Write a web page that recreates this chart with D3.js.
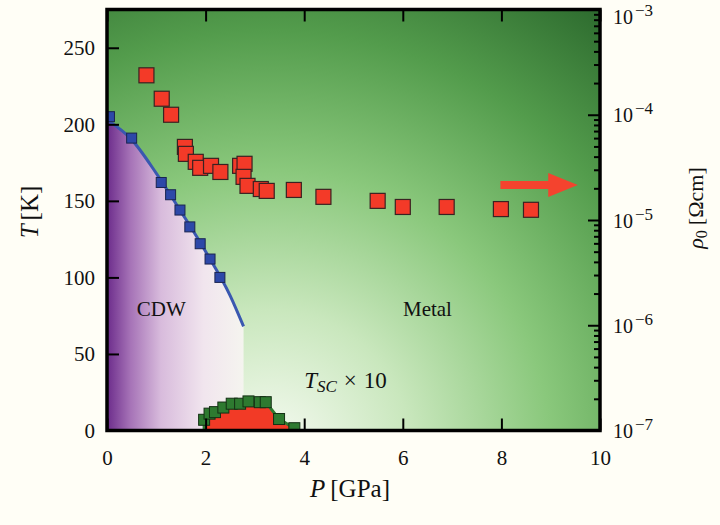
<!DOCTYPE html>
<html lang="en">
  <head>
    <meta charset="utf-8" />
    <title>Phase diagram</title>
    <script src="https://d3js.org/d3.v7.min.js"></script>
    <style>
      body { margin: 0; background: #fffef6; }
      text { font-family: "Liberation Serif", "DejaVu Serif", serif; fill: #111; }
    </style>
  </head>
  <body>
    <div id="chart"></div>
    <script>
      // CDW transition (blue squares)
      const cdwP = [0.05, 0.5, 1.1, 1.29, 1.48, 1.68, 1.89, 2.09, 2.29];
      const cdwT = [205, 191, 162, 154, 144, 133, 122, 112, 100];
      // fit line through CDW points
      const fitP = [0, 0.5, 1.0, 1.5, 2.0, 2.5, 2.77];
      const fitT = [203, 190, 168, 143, 117, 88, 68];
      // superconducting Tc x 10 (green squares)
      const scP = [1.97, 2.08, 2.19, 2.36, 2.53, 2.7, 2.87, 3.1, 3.22, 3.49, 3.8];
      const scT = [7, 11, 12, 15, 17.5, 17.5, 19, 18.5, 18.5, 7.5, 1.5];
      // residual resistivity rho0 (red squares, right axis)
      const rhoP = [0.8, 1.11, 1.3, 1.58, 1.6, 1.8, 1.89, 2.11, 2.3, 2.7, 2.79, 2.77, 2.85,
        3.12, 3.24, 3.79, 4.39, 5.49, 6.0, 6.89, 7.99, 8.6];
      const rhoV = [2.37e-4, 1.42e-4, 1.0e-4, 4.95e-5, 4.25e-5, 3.57e-5, 3.13e-5, 3.27e-5,
        2.86e-5, 3.27e-5, 3.42e-5, 2.57e-5, 2.11e-5, 1.97e-5, 1.89e-5, 1.93e-5, 1.66e-5,
        1.52e-5, 1.33e-5, 1.33e-5, 1.27e-5, 1.25e-5];
      const tTicks = [0, 50, 100, 150, 200, 250];
      const pTicks = [0, 2, 4, 6, 8, 10];
      const rhoTicks = [-7, -6, -5, -4, -3];

      const W = 720, H = 525;
      const x0 = 107, x1 = 600, yb = 430.5, yt = 9.5;

      const svg = d3.select("#chart").append("svg")
        .attr("width", W).attr("height", H);
      svg.append("rect").attr("width", W).attr("height", H).attr("fill", "#fffef6");

      const x = d3.scaleLinear().domain([0, 10]).range([x0, x1]);
      const y = d3.scaleLinear().domain([0, 275]).range([yb, yt]);
      const yR = d3.scaleLog().domain([1e-7, 1e-3]).range([yb, yt]);

      const defs = svg.append("defs");
      const gG = defs.append("radialGradient").attr("id", "gGreen")
        .attr("gradientUnits", "userSpaceOnUse")
        .attr("cx", 270).attr("cy", 450).attr("r", 560);
      [[0, "#f7fbf3"], [0.25, "#c9e7bd"], [0.5, "#8ac87c"], [0.75, "#539c4c"], [1, "#2a672c"]]
        .forEach(s => gG.append("stop").attr("offset", s[0]).attr("stop-color", s[1]));
      const gP = defs.append("linearGradient").attr("id", "gPurple")
        .attr("gradientUnits", "userSpaceOnUse")
        .attr("x1", x(0)).attr("x2", x(2.8)).attr("y1", 0).attr("y2", 0);
      [[0, "#6c2c8b"], [0.17, "#a673b7"], [0.39, "#d8bbdc"], [0.7, "#f1e5ee"], [1, "#f5f5ef"]]
        .forEach(s => gP.append("stop").attr("offset", s[0]).attr("stop-color", s[1]));
      defs.append("clipPath").attr("id", "clip").append("rect")
        .attr("x", x0).attr("y", yt).attr("width", x1 - x0).attr("height", yb - yt);

      const plot = svg.append("g").attr("clip-path", "url(#clip)");
      plot.append("rect").attr("x", x0).attr("y", yt)
        .attr("width", x1 - x0).attr("height", yb - yt).attr("fill", "url(#gGreen)");

      // CDW region
      const fit = fitP.map((p, i) => [p, fitT[i]]);
      const cdwArea = d3.area().x(d => x(d[0])).y0(y(0)).y1(d => y(d[1])).curve(d3.curveMonotoneX);
      plot.append("path").datum(fit).attr("d", cdwArea).attr("fill", "url(#gPurple)");

      // SC dome
      const sc = scP.map((p, i) => [p, scT[i]]);
      plot.append("path").datum([[scP[0], 0], ...sc, [scP[scP.length - 1], 0]])
        .attr("d", d3.area().x(d => x(d[0])).y0(y(0)).y1(d => y(d[1])))
        .attr("fill", "#f23a26");
      plot.append("path").datum([[scP[0], 0], ...sc, [3.85, 0]])
        .attr("d", d3.line().x(d => x(d[0])).y(d => y(d[1])))
        .attr("fill", "none").attr("stroke", "#2e7a30").attr("stroke-width", 3);
      plot.selectAll(".sc").data(sc).enter().append("rect")
        .attr("x", d => x(d[0]) - 5.5).attr("y", d => y(d[1]) - 5.5)
        .attr("width", 11).attr("height", 11)
        .attr("fill", "#2e7a30").attr("stroke", "#143014").attr("stroke-width", 1);

      // CDW line and points
      plot.append("path").datum(fit)
        .attr("d", d3.line().x(d => x(d[0])).y(d => y(d[1])).curve(d3.curveMonotoneX))
        .attr("fill", "none").attr("stroke", "#3a58b0").attr("stroke-width", 3);
      plot.selectAll(".cdw").data(cdwP.map((p, i) => [p, cdwT[i]])).enter().append("rect")
        .attr("x", d => x(d[0]) - 5).attr("y", d => y(d[1]) - 5)
        .attr("width", 10).attr("height", 10)
        .attr("fill", "#2d48a8").attr("stroke", "#1a2450").attr("stroke-width", 1);

      // rho0 points
      plot.selectAll(".rho").data(rhoP.map((p, i) => [p, rhoV[i]])).enter().append("rect")
        .attr("x", d => x(d[0]) - 7.5).attr("y", d => yR(d[1]) - 7.5)
        .attr("width", 15).attr("height", 15)
        .attr("fill", "#f33a28").attr("stroke", "#3a2222").attr("stroke-width", 1.2);

      // arrow pointing to right axis
      const ay = yR(2.15e-5);
      svg.append("path")
        .attr("d", `M${x(7.98)},${ay - 4}L${x(8.95)},${ay - 4}L${x(8.95)},${ay - 12}L${x(9.55)},${ay}` +
          `L${x(8.95)},${ay + 12}L${x(8.95)},${ay + 4}L${x(7.98)},${ay + 4}Z`)
        .attr("fill", "#f4432e");

      // region labels
      svg.append("text").attr("x", x(1.1)).attr("y", y(75)).attr("text-anchor", "middle")
        .attr("font-size", 21).text("CDW");
      svg.append("text").attr("x", x(6.5)).attr("y", y(75)).attr("text-anchor", "middle")
        .attr("font-size", 21).text("Metal");
      const tsc = svg.append("text").attr("x", x(4.0)).attr("y", 388).attr("font-size", 23);
      tsc.append("tspan").attr("font-style", "italic").text("T");
      tsc.append("tspan").attr("font-style", "italic").attr("font-size", 17).attr("dy", 4).text("SC");
      tsc.append("tspan").attr("dy", -4).attr("dx", 7).text("\u00d7");
      tsc.append("tspan").attr("dx", 7).text("10");

      // axes
      const axL = svg.append("g").attr("transform", `translate(${x0},0)`)
        .call(d3.axisLeft(y).tickValues(tTicks).tickSizeInner(-12).tickSizeOuter(0).tickPadding(12));
      const axB = svg.append("g").attr("transform", `translate(0,${yb})`)
        .call(d3.axisBottom(x).tickValues(pTicks).tickSizeInner(-12).tickSizeOuter(0).tickPadding(20));
      const axT = svg.append("g").attr("transform", `translate(0,${yt})`)
        .call(d3.axisTop(x).tickValues(pTicks).tickSizeInner(-12).tickSizeOuter(0).tickFormat(""));
      const minor = yR.ticks().filter(v => Math.abs(Math.log10(v) - Math.round(Math.log10(v))) > 1e-6);
      const axRm = svg.append("g").attr("transform", `translate(${x1},0)`)
        .call(d3.axisRight(yR).tickValues(minor).tickSizeInner(-6).tickSizeOuter(0).tickFormat(""));
      const axR = svg.append("g").attr("transform", `translate(${x1},0)`)
        .call(d3.axisRight(yR).tickValues(rhoTicks.map(e => Math.pow(10, e)))
          .tickSizeInner(-12).tickSizeOuter(0).tickPadding(13).tickFormat(""));
      [axL, axB, axT, axRm, axR].forEach(a => {
        a.select(".domain").remove();
        a.selectAll("line").attr("stroke", "#000").attr("stroke-width", 2);
        a.selectAll("text").attr("font-family", "Liberation Serif").attr("font-size", 21).attr("fill", "#111");
      });
      axR.selectAll(".tick").each(function (d) {
        const e = Math.round(Math.log10(d));
        const t = d3.select(this).select("text").attr("font-size", 20)
          .attr("dy", e === -3 ? "0.7em" : "0.35em");
        t.append("tspan").text("10");
        t.append("tspan").attr("font-size", 17).attr("dx", 2).attr("dy", -8)
          .text("\u2212" + Math.abs(e));
      });

      // frame
      svg.append("rect").attr("x", x0).attr("y", yt).attr("width", x1 - x0).attr("height", yb - yt)
        .attr("fill", "none").attr("stroke", "#000").attr("stroke-width", 3.5);

      // axis titles
      const tl = svg.append("text").attr("transform", "translate(38,212) rotate(-90)")
        .attr("text-anchor", "middle").attr("font-size", 25);
      tl.append("tspan").attr("font-style", "italic").text("T");
      tl.append("tspan").attr("dx", 4).text("[K]");
      const bl = svg.append("text").attr("x", 350).attr("y", 497)
        .attr("text-anchor", "middle").attr("font-size", 25);
      bl.append("tspan").attr("font-style", "italic").text("P");
      bl.append("tspan").attr("dx", 5).text("[GPa]");
      const rl = svg.append("text").attr("transform", "translate(703,208) rotate(-90)")
        .attr("text-anchor", "middle").attr("font-size", 22);
      rl.append("tspan").attr("font-style", "italic").text("\u03c1");
      rl.append("tspan").attr("font-size", 16).attr("dy", 4).text("0");
      rl.append("tspan").attr("dy", -4).attr("dx", 5).text("[\u03a9cm]");
    </script>
  </body>
</html>
